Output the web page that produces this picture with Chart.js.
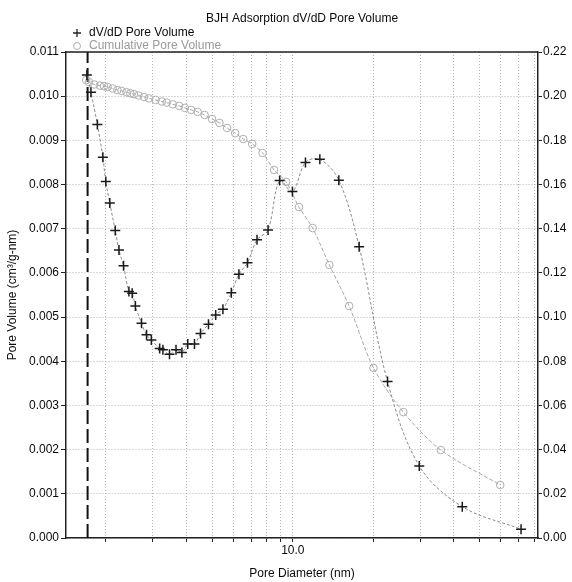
<!DOCTYPE html>
<html>
<head>
<meta charset="utf-8">
<script src="https://cdn.jsdelivr.net/npm/chart.js@4/dist/chart.umd.min.js"></script>
<style>
  html, body { margin: 0; padding: 0; background: #ffffff; }
  #wrap { width: 572px; height: 582px; }
</style>
</head>
<body>
<div id="wrap"><canvas id="c" width="572" height="582"></canvas></div>
<script>
// ---- Data ----
const chartTitle = 'BJH Adsorption dV/dD Pore Volume';
const seriesNames = ['dV/dD Pore Volume', 'Cumulative Pore Volume'];

// dV/dD Pore Volume (left axis, cm³/g-nm) vs pore diameter (nm)
const dvdDiameters = [1.70, 1.76, 1.86, 1.95, 2.00, 2.07, 2.17, 2.24, 2.33, 2.44,
  2.51, 2.58, 2.72, 2.84, 2.96, 3.18, 3.27, 3.46, 3.66, 3.85,
  4.05, 4.29, 4.52, 4.84, 5.15, 5.48, 5.89, 6.29, 6.77, 7.35,
  8.08, 8.93, 9.97, 11.15, 12.62, 14.86, 17.7, 22.6, 29.7, 43.0, 71.3];
const dvdValues = [0.01048, 0.01009, 0.00936, 0.00862, 0.00807, 0.00758, 0.00696, 0.00652, 0.00616, 0.00558,
  0.00554, 0.00525, 0.00486, 0.00460, 0.00448, 0.00429, 0.00426, 0.00416, 0.00426, 0.00420,
  0.00439, 0.00439, 0.00463, 0.00484, 0.00505, 0.00518, 0.00555, 0.00597, 0.00623, 0.00675,
  0.00697, 0.00809, 0.00784, 0.00850, 0.00857, 0.00810, 0.00659, 0.00354, 0.00163, 0.00071, 0.00020];

// Cumulative Pore Volume (right axis, cm³/g) vs pore diameter (nm)
const cumDiameters = [1.69, 1.73, 1.81, 1.90, 1.97, 2.03, 2.12, 2.21, 2.29, 2.39,
  2.47, 2.55, 2.65, 2.78, 2.90, 3.07, 3.24, 3.38, 3.56, 3.76,
  3.95, 4.17, 4.41, 4.68, 4.99, 5.32, 5.68, 6.09, 6.53, 7.05,
  7.71, 8.51, 9.44, 10.55, 11.86, 13.70, 16.24, 20.02, 25.88, 35.75, 59.6];
const cumValues = [0.2073, 0.2064, 0.2053, 0.2048, 0.2045, 0.2042, 0.2035, 0.2028, 0.2024, 0.2018,
  0.2013, 0.2009, 0.2003, 0.1996, 0.1990, 0.1983, 0.1976, 0.1971, 0.1963, 0.1956,
  0.1947, 0.1938, 0.1929, 0.1915, 0.1897, 0.1879, 0.1856, 0.1833, 0.1806, 0.1784,
  0.1743, 0.1666, 0.1612, 0.1498, 0.1403, 0.1236, 0.1050, 0.0770, 0.0570, 0.0398, 0.0240];

// Vertical dashed marker line (nm)
const markerDiameter = 1.71;

// Axis ranges and ticks
const xRange = [1.42, 82.5];
const xTickValues = [2, 3, 4, 5, 6, 7, 8, 9, 10, 20, 30, 40, 50, 60, 70, 80];
const xLabeledTicks = [10];
const leftRange = [0, 0.011];
const leftStep = 0.001;
const rightRange = [0, 0.22];
const rightStep = 0.02;
const xTitle = 'Pore Diameter (nm)';
const yTitle = 'Pore Volume (cm³/g-nm)';

// ---- Chart ----
const FONT = 'Liberation Sans, Arial, Helvetica, sans-serif';
const TXT = '#0a0a0a';
const GRID = '#b4b4b4';

const toPoints = (xs, ys) => xs.map((x, i) => ({ x: x, y: ys[i] }));

const bgPlugin = {
  id: 'bg',
  beforeDraw(chart) {
    const ctx = chart.ctx;
    ctx.save();
    ctx.fillStyle = '#ffffff';
    ctx.fillRect(0, 0, chart.width, chart.height);
    ctx.restore();
  }
};

const framePlugin = {
  id: 'frame',
  afterDraw(chart) {
    const { ctx, chartArea: a } = chart;
    ctx.save();
    ctx.strokeStyle = '#222222';
    ctx.lineWidth = 1.5;
    ctx.beginPath();
    ctx.moveTo(a.left, a.top);
    ctx.lineTo(a.right, a.top);
    ctx.stroke();
    // title
    ctx.fillStyle = TXT;
    ctx.font = '12px ' + FONT;
    ctx.textAlign = 'center';
    ctx.textBaseline = 'middle';
    ctx.fillText(chartTitle, (a.left + a.right) / 2, 19);
    // legend
    const lx = 77;
    const rows = [33, 46];
    ctx.textAlign = 'left';
    // row 1: cross
    ctx.strokeStyle = '#222222';
    ctx.lineWidth = 1.3;
    ctx.beginPath();
    ctx.moveTo(lx - 4, rows[0]); ctx.lineTo(lx + 4, rows[0]);
    ctx.moveTo(lx, rows[0] - 4); ctx.lineTo(lx, rows[0] + 4);
    ctx.stroke();
    ctx.fillStyle = TXT;
    ctx.fillText(seriesNames[0], 89, rows[0]);
    // row 2: circle
    ctx.strokeStyle = '#b0b0b0';
    ctx.lineWidth = 1;
    ctx.beginPath();
    ctx.arc(lx, rows[1], 3.5, 0, Math.PI * 2);
    ctx.stroke();
    ctx.fillStyle = '#9a9a9a';
    ctx.fillText(seriesNames[1], 89, rows[1]);
    ctx.restore();
  }
};

new Chart(document.getElementById('c'), {
  type: 'line',
  data: {
    datasets: [
      {
        label: seriesNames[0],
        data: toPoints(dvdDiameters, dvdValues),
        yAxisID: 'y',
        borderColor: '#8c8c8c',
        borderWidth: 1,
        borderDash: [3, 2],
        tension: 0.35,
        pointStyle: 'cross',
        pointRadius: 5,
        pointBorderWidth: 1.5,
        pointBorderColor: '#1a1a1a',
        pointBackgroundColor: '#1a1a1a',
        fill: false
      },
      {
        label: seriesNames[1],
        data: toPoints(cumDiameters, cumValues),
        yAxisID: 'y2',
        borderColor: '#a8a8a8',
        borderWidth: 1,
        borderDash: [4, 2],
        tension: 0.3,
        pointStyle: 'circle',
        pointRadius: 3.8,
        pointBorderWidth: 1,
        pointBorderColor: '#b0b0b0',
        pointBackgroundColor: 'rgba(255,255,255,0)',
        fill: false
      },
      {
        label: 'marker',
        data: [{ x: markerDiameter, y: leftRange[0] }, { x: markerDiameter, y: leftRange[1] }],
        yAxisID: 'y',
        borderColor: '#111111',
        borderWidth: 2,
        borderDash: [14, 5],
        pointRadius: 0,
        tension: 0,
        fill: false
      }
    ]
  },
  options: {
    responsive: false,
    animation: false,
    devicePixelRatio: 1,
    layout: { padding: { top: 52, left: 0, right: 0, bottom: 0 } },
    plugins: {
      legend: { display: false },
      title: { display: false },
      tooltip: { enabled: false }
    },
    scales: {
      x: {
        type: 'logarithmic',
        min: xRange[0],
        max: xRange[1],
        afterBuildTicks(scale) {
          scale.ticks = xTickValues.map(v => ({ value: v }));
        },
        afterFit(scale) { scale.height = 44; },
        ticks: {
          autoSkip: false,
          maxRotation: 0,
          padding: 1,
          color: TXT,
          font: { family: FONT, size: 12 },
          callback(value) {
            return xLabeledTicks.includes(value) ? value.toFixed(1) : '';
          }
        },
        grid: {
          color: GRID,
          lineWidth: 1,
          drawTicks: true,
          tickLength: 4,
          tickColor: '#222222',
          tickWidth: 1,
          tickBorderDash: []
        },
        border: { display: true, color: '#222222', width: 1.5, dash: [1, 2] },
        title: {
          display: true,
          text: xTitle,
          color: TXT,
          font: { family: FONT, size: 12 },
          padding: { top: 0, bottom: 1 }
        }
      },
      y: {
        type: 'linear',
        position: 'left',
        min: leftRange[0],
        max: leftRange[1],
        afterFit(scale) { scale.width = 66; },
        ticks: {
          stepSize: leftStep,
          padding: 2,
          color: TXT,
          font: { family: FONT, size: 12 },
          callback(value) { return value.toFixed(3); }
        },
        grid: {
          color: GRID,
          lineWidth: 1,
          drawTicks: true,
          tickLength: 5,
          tickColor: '#222222',
          tickWidth: 1,
          tickBorderDash: []
        },
        border: { display: true, color: '#222222', width: 1.5, dash: [1, 2] },
        title: {
          display: true,
          text: yTitle,
          color: TXT,
          font: { family: FONT, size: 12 },
          padding: { top: 5, bottom: 0 }
        }
      },
      y2: {
        type: 'linear',
        position: 'right',
        min: rightRange[0],
        max: rightRange[1],
        afterFit(scale) { scale.width = 34; },
        ticks: {
          stepSize: rightStep,
          padding: 1,
          color: TXT,
          font: { family: FONT, size: 12 },
          callback(value) { return value.toFixed(2); }
        },
        grid: {
          drawOnChartArea: false,
          drawTicks: true,
          tickLength: 4,
          tickColor: '#222222',
          tickWidth: 1,
          tickBorderDash: []
        },
        border: { display: true, color: '#222222', width: 1.5 }
      }
    }
  },
  plugins: [bgPlugin, framePlugin]
});
</script>
</body>
</html>
